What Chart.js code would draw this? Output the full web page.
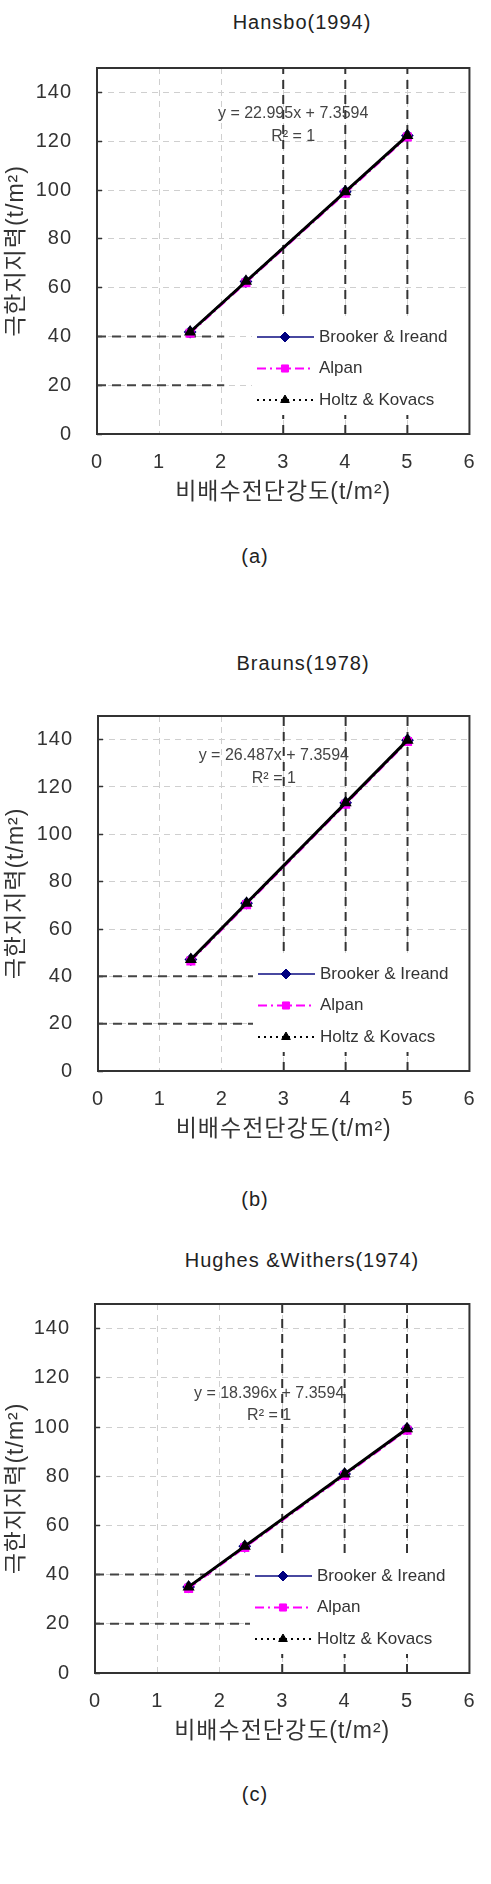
<!DOCTYPE html>
<html>
<head>
<meta charset="utf-8">
<script src="https://cdn.jsdelivr.net/npm/chart.js@4.4.0/dist/chart.umd.min.js"></script>
<style>
  body { margin: 0; background: #fff; }
  #page { position: relative; width: 491px; height: 1884px; overflow: hidden; }
  canvas { position: absolute; left: 0; }
  .ttl, .cap { position: absolute; text-align: center; font-family: "Liberation Sans", Arial, sans-serif;
               color: #222; font-size: 20px; line-height: 24px; letter-spacing: 1px; white-space: nowrap; }
</style>
</head>
<body>
<div id="page">
  <div class="ttl" style="left:152px;width:300px;top:10px">Hansbo(1994)</div>
  <canvas id="chartA"></canvas>
  <div class="cap" style="left:205px;width:100px;top:544px">(a)</div>

  <div class="ttl" style="left:153px;width:300px;top:651px">Brauns(1978)</div>
  <canvas id="chartB"></canvas>
  <div class="cap" style="left:205px;width:100px;top:1187px">(b)</div>

  <div class="ttl" style="left:152px;width:300px;top:1248px">Hughes &amp;Withers(1974)</div>
  <canvas id="chartC"></canvas>
  <div class="cap" style="left:205px;width:100px;top:1782px">(c)</div>
</div>

<script>
// 공통 x 값 (비배수전단강도)
const xValues = [1.5, 2.4, 4, 5];

// (a) Hansbo(1994)
const brookerA = [41.8, 62.5, 99.3, 122.3];
const alpanA = [41.3, 62.0, 98.7, 121.7];
const holtzA = [41.8, 62.6, 99.3, 122.3];
const trendA = [41.8, 122.3];

// (b) Brauns(1978)
const brookerB = [47.1, 70.9, 113.3, 139.8];
const alpanB = [46.5, 70.3, 112.7, 139.2];
const holtzB = [47.1, 70.9, 113.3, 139.8];
const trendB = [47.1, 139.8];

// (c) Hughes & Withers(1974)
const brookerC = [35.0, 51.5, 80.9, 99.3];
const alpanC = [34.4, 51.0, 80.3, 98.7];
const holtzC = [35.0, 51.5, 80.9, 99.3];
const trendC = [35.0, 99.3];

const trendX = [1.5, 5];
const seriesNames = ['Brooker & Ireand', 'Alpan', 'Holtz & Kovacs'];
const equations = ['y = 22.995x + 7.3594', 'y = 26.487x + 7.3594', 'y = 18.396x + 7.3594'];
const rSquared = 'R² = 1';

// 보조선 (굵은 점선)
const refX = [3, 4, 5];
const refY = [40, 20];
const refYEnd = [2.05, 6, 6];

const FONT = '"Liberation Sans", "Noto Sans CJK KR", Arial, sans-serif';

const pts = (xs, ys) => xs.map((x, i) => ({ x: x, y: ys[i] }));

// 그래프 안쪽 범례 + 회귀식 + 테두리
const innerPlugin = {
    id: 'inner',
    beforeDraw(chart) {
        chart.ctx.letterSpacing = '1px';
    },
    afterDatasetsDraw(chart) {
        const { ctx, chartArea: a, scales } = chart;
        const o = chart.options.plugins.inner;
        ctx.save();
        ctx.letterSpacing = '0px';

        // 회귀식
        ctx.fillStyle = '#444';
        ctx.font = '16px ' + FONT;
        ctx.textAlign = 'center';
        ctx.textBaseline = 'middle';
        ctx.fillText(o.eq, scales.x.getPixelForValue(o.eqPos[0]), scales.y.getPixelForValue(o.eqPos[1]));
        ctx.fillText(rSquared, scales.x.getPixelForValue(o.eqPos[0]), scales.y.getPixelForValue(o.eqPos[2]));

        // 범례 (흰 바탕)
        ctx.fillStyle = '#fff';
        ctx.fillRect(a.left + 155, a.bottom - 116, 214, 97);
        const rows = [97, 65.5, 34];
        const items = chart.data.datasets.filter(d => d.inLegend)
            .sort((p, q) => seriesNames.indexOf(p.label) - seriesNames.indexOf(q.label));
        items.forEach((d, i) => {
            const y = a.bottom - rows[i];
            ctx.save();
            ctx.strokeStyle = d.borderColor;
            ctx.lineWidth = d.borderWidth;
            ctx.setLineDash(d.borderDash || []);
            ctx.beginPath();
            ctx.moveTo(a.left + 160, y);
            ctx.lineTo(a.left + 217, y);
            ctx.stroke();
            ctx.restore();
            ctx.save();
            ctx.setLineDash([]);
            ctx.fillStyle = d.pointBackgroundColor;
            ctx.strokeStyle = d.pointBorderColor;
            Chart.helpers.drawPoint(ctx, { pointStyle: d.pointStyle, radius: d.pointRadius, borderWidth: 1, rotation: 0 }, a.left + 188, y);
            ctx.restore();
            ctx.fillStyle = '#333';
            ctx.font = '17px ' + FONT;
            ctx.textAlign = 'left';
            ctx.textBaseline = 'middle';
            ctx.fillText(d.label, a.left + 222, y);
        });

        // 테두리
        ctx.strokeStyle = '#333';
        ctx.lineWidth = 2;
        ctx.setLineDash([]);
        ctx.strokeRect(a.left, a.top, a.right - a.left, a.bottom - a.top);
        ctx.restore();
    }
};

const makeChart = (id, idx, box, brooker, alpan, holtz, trend, eqPos) => {
    const canvas = document.getElementById(id);
    const padTop = 25, axisH = 72;
    const H = Math.round(padTop + (box.bottom - box.top) + axisH);
    canvas.width = 491;
    canvas.height = H;
    canvas.style.top = (box.top - padTop) + 'px';

    const refSets = [];
    refX.forEach(x => refSets.push({
        data: [{ x: x, y: 0 }, { x: x, y: 150 }],
        borderColor: '#333', borderWidth: 2, borderDash: [9, 6], pointRadius: 0, showLine: true
    }));
    refY.forEach(y => refSets.push({
        data: [{ x: 0, y: y }, { x: refYEnd[idx], y: y }],
        borderColor: '#444', borderWidth: 2, borderDash: [9, 6], pointRadius: 0, showLine: true
    }));

    return new Chart(canvas, {
        type: 'scatter',
        data: {
            datasets: [
                { label: 'trend', data: pts(trendX, trend), borderColor: '#000', borderWidth: 3,
                  pointRadius: 0, showLine: true },
                { label: seriesNames[2], inLegend: true, data: pts(xValues, holtz), borderColor: '#000',
                  borderWidth: 2, borderDash: [2, 4], showLine: true, pointStyle: 'triangle', pointRadius: 5,
                  pointBackgroundColor: '#000', pointBorderColor: '#000' },
                { label: seriesNames[1], inLegend: true, data: pts(xValues, alpan), borderColor: '#ff00ff',
                  borderWidth: 2, borderDash: [9, 4, 2, 4], showLine: true, pointStyle: 'rect', pointRadius: 5,
                  pointBackgroundColor: '#ff00ff', pointBorderColor: '#ff00ff' },
                { label: seriesNames[0], inLegend: true, data: pts(xValues, brooker), borderColor: '#4848a0',
                  borderWidth: 2, showLine: true, pointStyle: 'rectRot', pointRadius: 5,
                  pointBackgroundColor: '#000080', pointBorderColor: '#000080' }
            ].concat(refSets)
        },
        options: {
            responsive: false,
            animation: false,
            layout: { padding: { top: padTop, right: 491 - box.right, bottom: 0, left: 0 } },
            plugins: {
                legend: { display: false },
                tooltip: { enabled: false },
                inner: { eq: equations[idx], eqPos: eqPos }
            },
            scales: {
                x: {
                    type: 'linear', min: 0, max: 6,
                    ticks: { stepSize: 1, padding: 16, color: '#333', font: { family: FONT, size: 20 } },
                    grid: { color: '#cfcfcf', lineWidth: 1, drawTicks: false },
                    border: { display: false, dash: [6, 5] },
                    title: { display: true, text: '비배수전단강도(t/m²)', color: '#333',
                             font: { family: FONT, size: 23 }, padding: { top: 0, bottom: 0 } },
                    afterFit: s => { s.height = axisH; }
                },
                y: {
                    type: 'linear', min: 0, max: 150,
                    ticks: { stepSize: 20, includeBounds: false, padding: 30, color: '#333',
                             font: { family: FONT, size: 20 } },
                    grid: { color: '#cfcfcf', lineWidth: 1, drawTicks: true, tickLength: -5,
                            tickColor: '#333', tickWidth: 1.5, tickBorderDash: [] },
                    border: { display: false, dash: [6, 5] },
                    title: { display: true, text: '극한지지력(t/m²)', color: '#333',
                             font: { family: FONT, size: 23 }, padding: { top: 3, bottom: 0 } },
                    afterFit: s => { s.width = box.left; }
                }
            }
        },
        plugins: [innerPlugin]
    });
};

makeChart('chartA', 0, { left: 97, right: 478, top: 51, bottom: 434 },
          brookerA, alpanA, holtzA, trendA, [3.16, 131.2, 121.9]);
makeChart('chartB', 1, { left: 98, right: 479, top: 699, bottom: 1071 },
          brookerB, alpanB, holtzB, trendB, [2.84, 133.2, 123.7]);
makeChart('chartC', 2, { left: 95, right: 478, top: 1287, bottom: 1673 },
          brookerC, alpanC, holtzC, trendC, [2.79, 113.6, 104.5]);
</script>
</body>
</html>
